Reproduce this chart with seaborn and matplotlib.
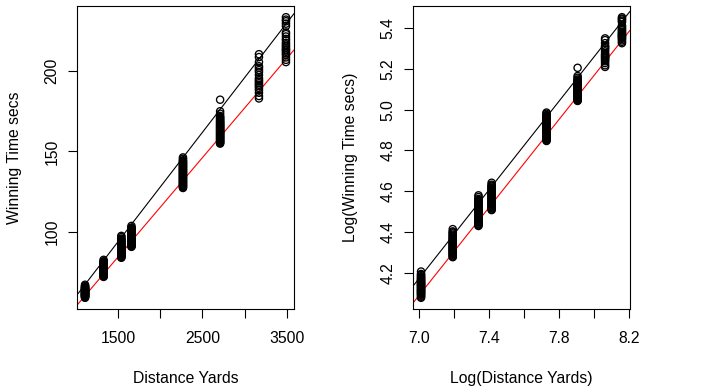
import numpy as np
import pandas as pd
import matplotlib
matplotlib.use("Agg")
import matplotlib.pyplot as plt
import seaborn as sns

# ---- data ----
distances = [1110, 1330, 1540, 1660, 2270, 2710, 3170, 3490]
times_1110 = [59.0, 59.3, 59.6, 59.9, 60.1, 60.3, 60.5, 60.7, 60.9, 61.1, 61.3, 61.5, 61.7, 62.0, 62.2, 62.4,
              62.6, 62.8, 63.0, 63.2, 63.4, 63.6, 63.8, 64.0, 64.3, 64.5, 64.8, 65.0, 65.3, 65.6, 66.0, 66.3, 67.1]
times_1330 = [72.0, 72.3, 72.6, 72.9, 73.2, 73.5, 73.8, 74.0, 74.3, 74.6, 74.9, 75.1, 75.4, 75.7, 76.0, 76.3,
              76.6, 76.9, 77.2, 77.5, 77.8, 78.1, 78.5, 78.8, 79.2, 79.6, 80.0, 80.4, 80.9, 81.3, 81.7, 82.6]
times_1540 = [83.9, 84.2, 84.6, 84.9, 85.3, 85.6, 86.0, 86.3, 86.7, 87.0, 87.4, 87.7, 88.0, 88.4, 88.7, 89.0,
              89.4, 89.7, 90.1, 90.4, 90.8, 91.1, 91.5, 91.9, 92.3, 92.7, 93.1, 93.5, 94.0, 94.4, 94.9, 95.3,
              95.8, 96.7, 97.5]
times_1660 = [90.7, 91.0, 91.4, 91.7, 92.1, 92.4, 92.8, 93.1, 93.5, 93.8, 94.2, 94.5, 94.9, 95.2, 95.6, 95.9,
              96.3, 96.6, 97.0, 97.3, 97.7, 98.1, 98.5, 98.9, 99.3, 99.7, 100.1, 100.5, 100.9, 101.3, 101.8,
              102.2, 102.7, 103.7]
times_2270 = [127.3, 127.7, 128.2, 128.6, 129.1, 129.5, 130.0, 130.4, 130.9, 131.3, 131.8, 132.2, 132.7, 133.1,
              133.6, 134.0, 134.5, 134.9, 135.4, 135.8, 136.3, 136.7, 137.2, 137.6, 138.1, 138.5, 139.0, 139.4,
              139.9, 140.3, 140.8, 141.2, 141.7, 142.1, 142.6, 143.0, 143.5, 144.0, 144.5, 145.4, 146.3]
times_2710 = [154.9, 155.3, 155.8, 156.2, 156.7, 157.1, 157.6, 158.0, 158.5, 158.9, 159.4, 159.8, 160.3, 160.7,
              161.2, 161.6, 162.1, 162.5, 163.0, 163.4, 163.9, 164.3, 164.8, 165.2, 165.7, 166.1, 166.6, 167.0,
              167.5, 168.0, 168.5, 169.0, 169.6, 170.2, 170.8, 171.4, 172.1, 173.5, 175.0, 182.2]
times_3170 = [183.0, 184.5, 186.5, 188.2, 189.5, 190.7, 191.5, 192.5, 193.5, 194.4, 195.5, 197.5, 199.4,
              200.6, 202.0, 203.0, 205.6, 208.7, 210.5]
times_3490 = [205.6, 207.0, 208.5, 210.0, 211.0, 212.0, 213.0, 213.5, 214.5, 215.5, 216.5, 217.5, 219.0,
              220.0, 221.5, 223.0, 224.0, 228.0, 229.5, 231.0, 232.0, 233.5]
all_times = [times_1110, times_1330, times_1540, times_1660, times_2270, times_2710, times_3170, times_3490]

# fitted lines (intercept, slope)
lin_black = (-8.3, 0.06807)
lin_red = (-8.3, 0.06177)
log_black = (-3.4515, 1.089)
log_red = (-3.4787, 1.081)

x_ticks_lin = [1500, 2000, 2500, 3000, 3500]
x_labels_lin = ["1500", "", "2500", "", "3500"]
y_ticks_lin = [100, 150, 200]
x_ticks_log = [7.0, 7.2, 7.4, 7.6, 7.8, 8.0, 8.2]
x_labels_log = ["7.0", "", "7.4", "", "7.8", "", "8.2"]
y_ticks_log = [4.2, 4.4, 4.6, 4.8, 5.0, 5.2, 5.4]

rows = []
for d, ts in zip(distances, all_times):
    for t in ts:
        rows.append((d, t))
df = pd.DataFrame(rows, columns=["dist", "time"])
df["logdist"] = np.log(df["dist"])
df["logtime"] = np.log(df["time"])

sns.set_style("white")
plt.rcParams["font.family"] = ["Liberation Sans", "DejaVu Sans"]
plt.rcParams["text.color"] = "black"
plt.rcParams["axes.labelcolor"] = "black"
plt.rcParams["xtick.color"] = "black"
plt.rcParams["ytick.color"] = "black"
FS = 11.3

W, H = 706, 391
fig = plt.figure(figsize=(W / 100, H / 100), dpi=100)
ax1 = fig.add_axes([77 / W, 1 - 309 / H, 217 / W, 303 / H])
ax2 = fig.add_axes([413 / W, 1 - 309 / H, 217 / W, 303 / H])


def r_lims(v):
    lo, hi = min(v), max(v)
    p = (hi - lo) * 0.04
    return lo - p, hi + p


def style(ax, xcol, ycol, black, red, xt, xl, yt, ylab, xlab, yfmt):
    sns.scatterplot(data=df, x=xcol, y=ycol, ax=ax, marker="o", s=27,
                    facecolor="none", edgecolor="black", linewidth=0.95,
                    legend=False, zorder=3)
    ax.axline((0, black[0]), slope=black[1], color="black", lw=0.8, zorder=2)
    ax.axline((0, red[0]), slope=red[1], color="#ff0000", lw=0.8, zorder=2)
    ax.set_xlim(*r_lims(df[xcol]))
    ax.set_ylim(*r_lims(df[ycol]))
    ax.set_xticks(xt)
    ax.set_xticklabels(xl)
    ax.set_yticks(yt)
    ax.set_yticklabels([yfmt(v) for v in yt], rotation=90, va="center")
    ax.tick_params(axis="both", direction="out", length=6.5, width=0.8,
                   color="black", labelcolor="black", labelsize=FS, bottom=True, left=True)
    ax.tick_params(axis="x", pad=9.5)
    ax.tick_params(axis="y", pad=6.0)
    for s in ax.spines.values():
        s.set_color("black")
        s.set_linewidth(0.8)
        s.set_visible(True)
    ax.set_xlabel(xlab, fontsize=FS, color="black")
    ax.set_ylabel(ylab, fontsize=FS, color="black")
    ax.xaxis.set_label_coords(0.5, -0.205)
    ax.yaxis.set_label_coords(-0.255, 0.5)
    ax.grid(False)


style(ax1, "dist", "time", lin_black, lin_red, x_ticks_lin, x_labels_lin,
      y_ticks_lin, "Winning Time secs", "Distance Yards", lambda v: f"{v:d}")
style(ax2, "logdist", "logtime", log_black, log_red, x_ticks_log, x_labels_log,
      y_ticks_log, "Log(Winning Time secs)", "Log(Distance Yards)", lambda v: f"{v:.1f}")

fig.savefig("out.png", dpi=100, facecolor="white")
